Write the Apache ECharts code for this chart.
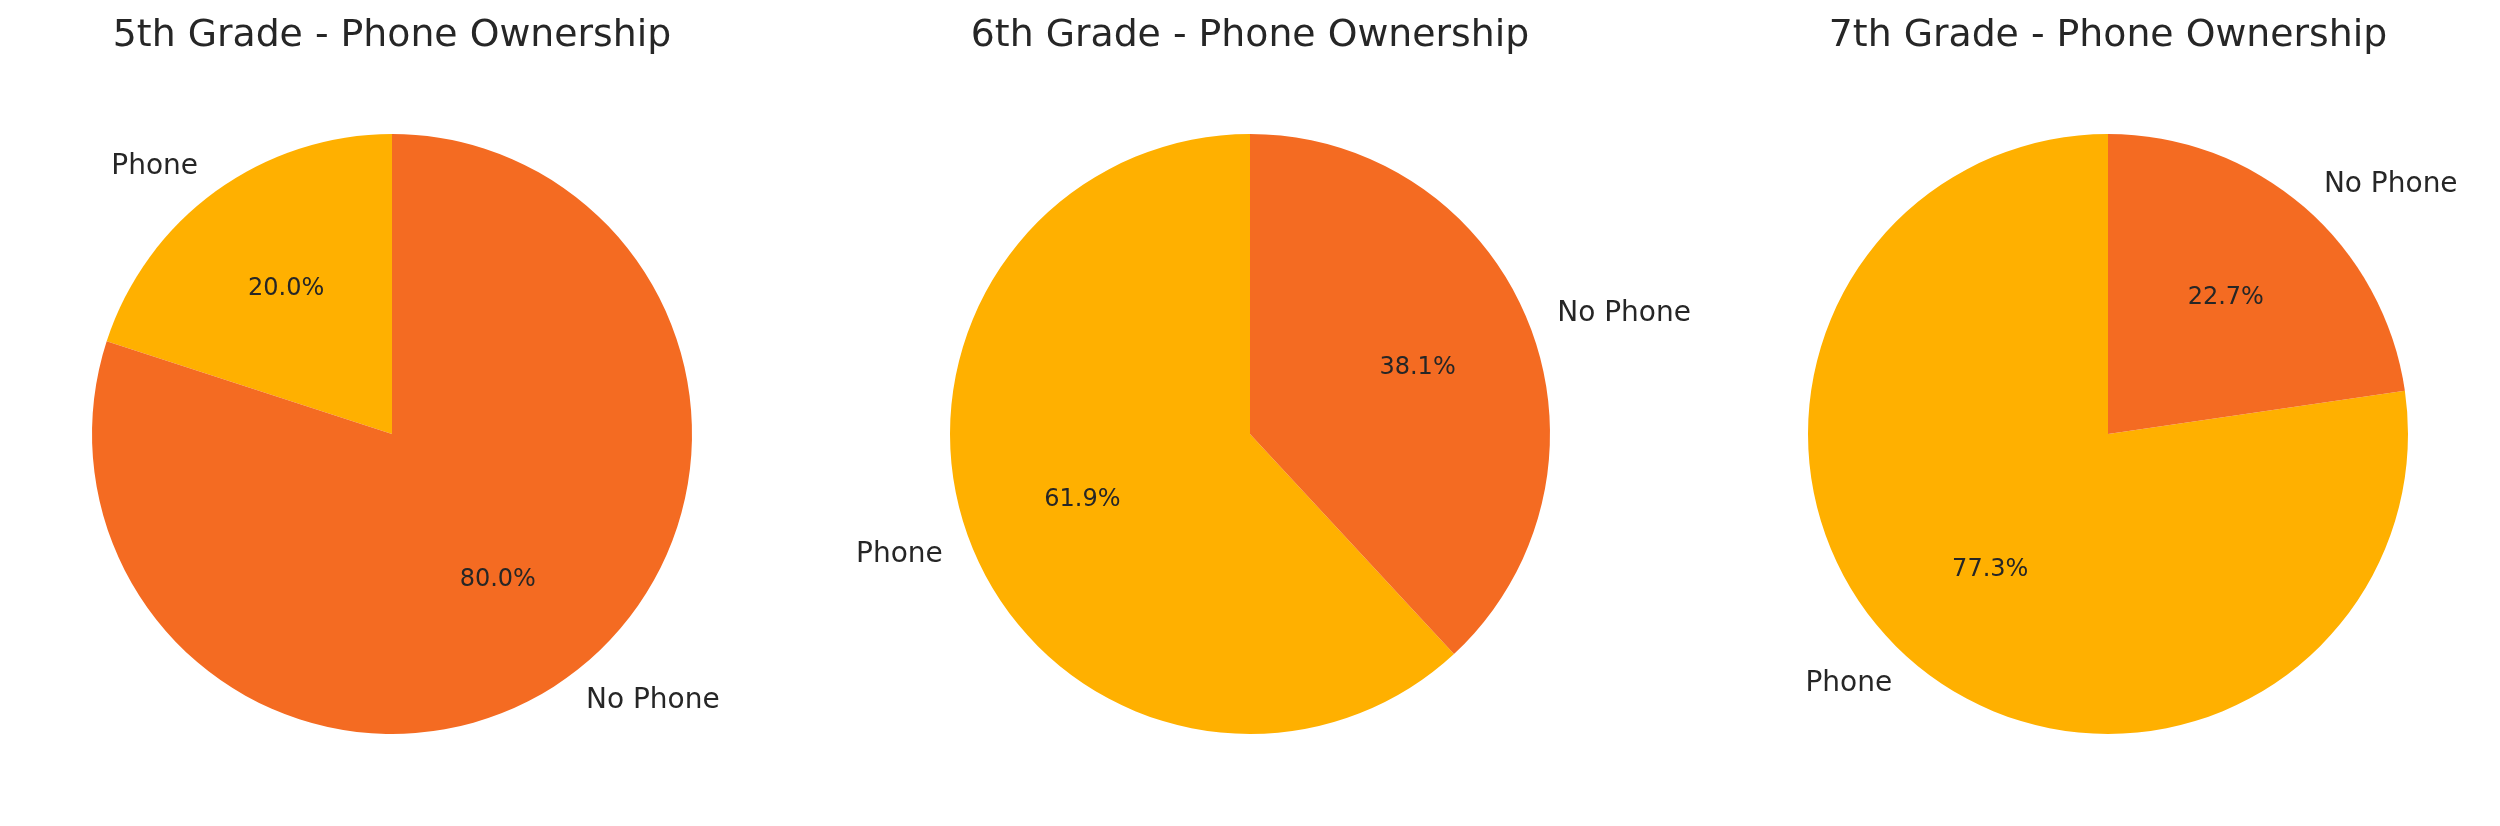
<!DOCTYPE html>
<html>
<head>
<meta charset="utf-8">
<title>Phone Ownership by Grade</title>
<script src="https://cdn.jsdelivr.net/npm/echarts@6/dist/echarts.min.js"></script>
<style>
  html, body { margin: 0; padding: 0; background: #fff; }
  #main { width: 2500px; height: 826px; }
</style>
</head>
<body>
<div id="main"></div>
<script>
var grades = ['5th Grade', '6th Grade', '7th Grade'];
var categories = ['Phone', 'No Phone'];
var phoneShare = [20.0, 61.9, 77.3];
var noPhoneShare = [80.0, 38.1, 22.7];
var sliceColors = ['#FFB000', '#F46B22'];

var chart = echarts.init(document.getElementById('main'));

var textColor = '#262626';
var fontFamily = 'DejaVu Sans';
var R = 300;
var centersX = [392, 1250, 2108];
var centerY = 434;

var titles = [];
var series = [];

grades.forEach(function (grade, i) {
  var data = [
    { name: categories[0], value: phoneShare[i], itemStyle: { color: sliceColors[0] } },
    { name: categories[1], value: noPhoneShare[i], itemStyle: { color: sliceColors[1] } }
  ];

  titles.push({
    text: grade + ' - Phone Ownership',
    left: centersX[i],
    top: 17,
    textAlign: 'center',
    padding: 0,
    textStyle: { color: textColor, fontFamily: fontFamily, fontSize: 37.8, fontWeight: 'normal' }
  });

  // the pie itself, with the category names outside (matplotlib labeldistance 1.1)
  series.push({
    type: 'pie',
    center: [centersX[i], centerY],
    radius: [0, R],
    startAngle: 90,
    clockwise: false,
    avoidLabelOverlap: false,
    silent: true,
    animation: false,
    label: {
      show: true,
      position: 'outside',
      formatter: '{b}',
      color: textColor,
      fontFamily: fontFamily,
      fontSize: 28,
      padding: [5, 0, 0, 0],
      distanceToLabelLine: 0
    },
    labelLine: { show: false, length: R * 0.1, length2: 0 },
    emphasis: { disabled: true },
    data: data
  });

  // transparent copy that only carries the percentages (pctdistance 0.6)
  series.push({
    type: 'pie',
    center: [centersX[i], centerY],
    radius: [0, R * 1.2 - 6],
    startAngle: 90,
    clockwise: false,
    silent: true,
    animation: false,
    z: 3,
    itemStyle: { color: 'rgba(0,0,0,0)' },
    label: {
      show: true,
      position: 'inside',
      formatter: function (p) { return p.value.toFixed(1) + '%'; },
      color: textColor,
      fontFamily: fontFamily,
      fontSize: 24,
      padding: [6, 0, 0, 0]
    },
    labelLine: { show: false },
    emphasis: { disabled: true },
    data: data.map(function (d) { return { name: d.name, value: d.value, itemStyle: { color: 'rgba(0,0,0,0)' } }; })
  });
});

chart.setOption({
  backgroundColor: '#ffffff',
  animation: false,
  title: titles,
  series: series
});
</script>
</body>
</html>
